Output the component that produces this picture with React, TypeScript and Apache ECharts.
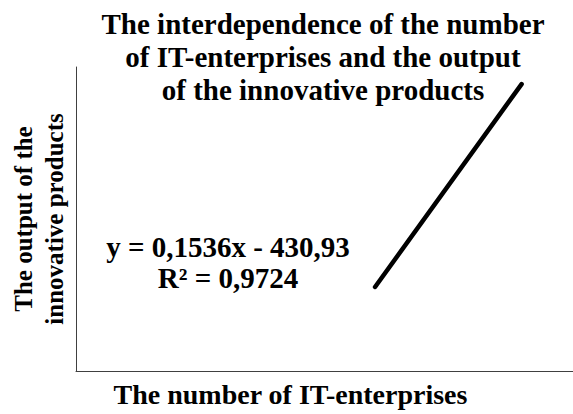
import React, { useEffect, useRef } from "react";
import * as echarts from "echarts";

const titleLines = [
  "The interdependence of the number",
  "of IT-enterprises and the output",
  "of the innovative products",
];
const xAxisName = "The number of IT-enterprises";
const yAxisNameLines = ["The output of the", "innovative products"];
const equationLines = ["y = 0,1536x - 430,93", "R² = 0,9724"];

// Trend line endpoints (number of IT-enterprises, output of innovative products)
const trendX = [3520, 5245];
const trendY = [109.7, 374.7];

const xRange = [0, 5850];
const yRange = [0, 397];

const FONT = '"Liberation Serif", "Times New Roman", serif';

export default function App() {
  const ref = useRef<HTMLDivElement>(null);
  useEffect(() => {
    if (!ref.current) return;
    const chart = echarts.init(ref.current, undefined, { renderer: "svg" });
    chart.setOption({
      animation: false,
      backgroundColor: "#ffffff",
      title: {
        text: titleLines.join("\n"),
        left: 318,
        top: 2,
        textAlign: "center",
        textStyle: {
          fontFamily: FONT,
          fontWeight: "bold",
          fontSize: 29,
          lineHeight: 33,
          color: "#000",
        },
      },
      grid: { left: 75, right: 0, top: 67, bottom: 40, containLabel: false },
      xAxis: {
        type: "value",
        min: xRange[0],
        max: xRange[1],
        name: xAxisName,
        nameLocation: "middle",
        nameGap: 8,
        nameTextStyle: {
          fontFamily: FONT,
          fontWeight: "bold",
          fontSize: 28,
          lineHeight: 30,
          color: "#000",
          padding: [0, 68, 0, 0],
        },
        axisLine: { show: true, lineStyle: { color: "#404040", width: 1 } },
        axisTick: { show: false },
        axisLabel: { show: false },
        splitLine: { show: false },
      },
      yAxis: {
        type: "value",
        min: yRange[0],
        max: yRange[1],
        name: yAxisNameLines.join("\n"),
        nameLocation: "middle",
        nameGap: 6,
        nameTextStyle: {
          fontFamily: FONT,
          fontWeight: "bold",
          fontSize: 25,
          lineHeight: 31,
          color: "#000",
        },
        axisLine: { show: true, lineStyle: { color: "#404040", width: 1 } },
        axisTick: { show: false },
        axisLabel: { show: false },
        splitLine: { show: false },
      },
      series: [
        {
          type: "line",
          data: trendX.map((x, i) => [x, trendY[i]]),
          symbol: "none",
          lineStyle: { color: "#000", width: 4.5, cap: "round" },
        },
      ],
      graphic: [
        {
          type: "text",
          x: 228,
          y: 231,
          style: {
            text: equationLines.join("\n"),
            fontFamily: FONT,
            fontWeight: "bold",
            fontSize: 29,
            lineHeight: 31,
            fill: "#000",
            textAlign: "center",
            textVerticalAlign: "top",
          },
        },
      ],
    });
    return () => chart.dispose();
  }, []);
  return (
    <div
      ref={ref}
      style={{ position: "fixed", left: 0, top: 0, width: 573, height: 414 }}
    />
  );
}
